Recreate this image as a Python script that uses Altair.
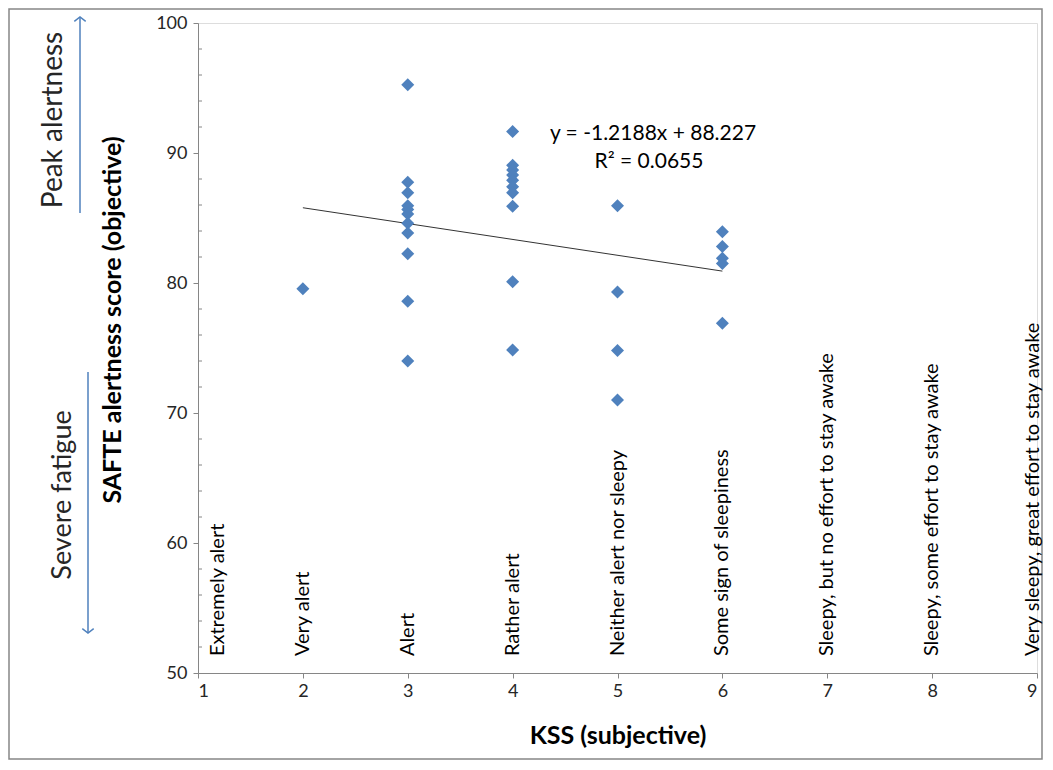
import altair as alt
import pandas as pd

# ---- data ----
kss = [2,
       3, 3, 3, 3, 3, 3, 3, 3, 3, 3, 3,
       4, 4, 4, 4, 4, 4, 4, 4, 4, 4,
       5, 5, 5, 5,
       6, 6, 6, 6, 6]
safte = [79.55,
         95.25, 87.75, 86.95, 85.95, 85.65, 85.3, 84.6, 83.85, 82.25, 78.6, 74.0,
         91.65, 89.05, 88.7, 88.3, 87.9, 87.4, 86.95, 85.9, 80.1, 74.85,
         85.95, 79.3, 74.8, 71.0,
         83.95, 82.8, 81.9, 81.5, 76.9]

kss_levels = [1, 2, 3, 4, 5, 6, 7, 8, 9]
kss_names = ["Extremely alert", "Very alert", "Alert", "Rather alert",
             "Neither alert nor sleepy", "Some sign of sleepiness",
             "Sleepy,  but no effort to stay awake", "Sleepy, some effort to stay awake",
             "Very sleepy,  great effort to stay awake"]

trend_slope = -1.2188
trend_intercept = 88.227
trend_x = [2, 6]
eq_lines = ["y = -1.2188x + 88.227", "R\u00b2 = 0.0655"]

y_ticks = [50, 60, 70, 80, 90, 100]
y_minor = [v for v in range(52, 100, 2) if v % 10 != 0]

FONT = "Lato"
BLUE = "#4F81BD"
AXIS = "#868686"
TXT = "#262626"

pts = pd.DataFrame({"kss": kss, "safte": safte})
trend = pd.DataFrame({"kss": trend_x,
                      "safte": [trend_slope * x + trend_intercept for x in trend_x]})
names = pd.DataFrame({"kss": kss_levels, "name": kss_names})
minor = pd.DataFrame({"v": y_minor})

xs = alt.Scale(domain=[1, 9], nice=False, zero=False)
ys = alt.Scale(domain=[50, 100], nice=False, zero=False)

xaxis = alt.Axis(values=kss_levels, format="d", grid=False, domainColor=AXIS, tickColor=AXIS,
                 tickSize=5, labelFont=FONT, labelFontSize=18, labelColor=TXT, labelPadding=4,
                 title="KSS (subjective)", titleFont=FONT, titleFontSize=25, titleFontWeight="bold",
                 titleColor="#000000", titlePadding=23)
yaxis = alt.Axis(values=y_ticks, grid=False, domainColor=AXIS, tickColor=AXIS, tickSize=5,
                 labelFont=FONT, labelFontSize=18, labelColor=TXT, labelPadding=6, title=None)

points = alt.Chart(pts).mark_point(shape="diamond", filled=True, size=170, color=BLUE, opacity=1).encode(
    x=alt.X("kss:Q", scale=xs, axis=xaxis),
    y=alt.Y("safte:Q", scale=ys, axis=yaxis),
)

line = alt.Chart(trend).mark_line(color="#333333", strokeWidth=1).encode(
    x=alt.X("kss:Q", scale=xs), y=alt.Y("safte:Q", scale=ys))

labels = alt.Chart(names).transform_calculate(
    xp="datum.kss == 1 ? 1.19 : (datum.kss == 9 ? 8.96 : datum.kss)",
    yp="51.3"
).mark_text(angle=270, align="left", baseline="middle", font=FONT, fontSize=20, color="#000000").encode(
    x=alt.X("xp:Q", scale=xs), y=alt.Y("yp:Q", scale=ys), text="name:N")

minor_ticks = alt.Chart(minor).mark_rule(color=AXIS, strokeWidth=1).encode(
    x=alt.value(0), x2=alt.value(4), y=alt.Y("v:Q", scale=ys))

one = alt.Data(values=[{}])

eq1 = alt.Chart(one).mark_text(font=FONT, fontSize=21, color="#000000").encode(
    x=alt.value(455), y=alt.value(111), text=alt.value(eq_lines[0]))
eq2 = alt.Chart(one).mark_text(font=FONT, fontSize=21, color="#000000").encode(
    x=alt.value(451), y=alt.value(139), text=alt.value(eq_lines[1]))

ytitle = alt.Chart(one).mark_text(angle=270, font=FONT, fontSize=25, fontWeight="bold",
                                  color="#000000", baseline="middle").encode(
    x=alt.value(-85), y=alt.value(297), text=alt.value("SAFTE alertness score  (objective)"))
peak = alt.Chart(one).mark_text(angle=270, font=FONT, fontSize=28, color=TXT, baseline="middle").encode(
    x=alt.value(-144), y=alt.value(97), text=alt.value("Peak alertness"))
severe = alt.Chart(one).mark_text(angle=270, font=FONT, fontSize=27, color=TXT, baseline="middle").encode(
    x=alt.value(-135), y=alt.value(472), text=alt.value("Severe fatigue"))

up_shaft = alt.Chart(one).mark_rule(color=BLUE, strokeWidth=1.5).encode(
    x=alt.value(-118), y=alt.value(-6), y2=alt.value(190))
up_head = alt.Chart(one).mark_point(shape="M -1 0.75 L 0 0 L 1 0.75", filled=False, size=130,
                                    color=BLUE, strokeWidth=1.5, opacity=1).encode(
    x=alt.value(-118), y=alt.value(-6))
down_shaft = alt.Chart(one).mark_rule(color=BLUE, strokeWidth=1.5).encode(
    x=alt.value(-110), y=alt.value(349), y2=alt.value(610))
down_head = alt.Chart(one).mark_point(shape="M -1 -0.75 L 0 0 L 1 -0.75", filled=False, size=130,
                                      color=BLUE, strokeWidth=1.5, opacity=1).encode(
    x=alt.value(-110), y=alt.value(610))

border = alt.Chart(one).mark_rect(fill=None, stroke=AXIS, strokeWidth=1.5).encode(
    x=alt.value(-189), x2=alt.value(844), y=alt.value(-14), y2=alt.value(736))

chart = alt.layer(border, minor_ticks, line, points, labels, eq1, eq2, ytitle, peak, severe,
                  up_shaft, up_head, down_shaft, down_head).properties(
    width=839, height=650,
    autosize=alt.AutoSizeParams(type="none"),
    padding={"left": 190, "top": 15, "right": 7, "bottom": 88},
).configure_view(stroke=None).configure(background="white")

chart.save("out.html", embed_options={"renderer": "svg", "actions": False})
